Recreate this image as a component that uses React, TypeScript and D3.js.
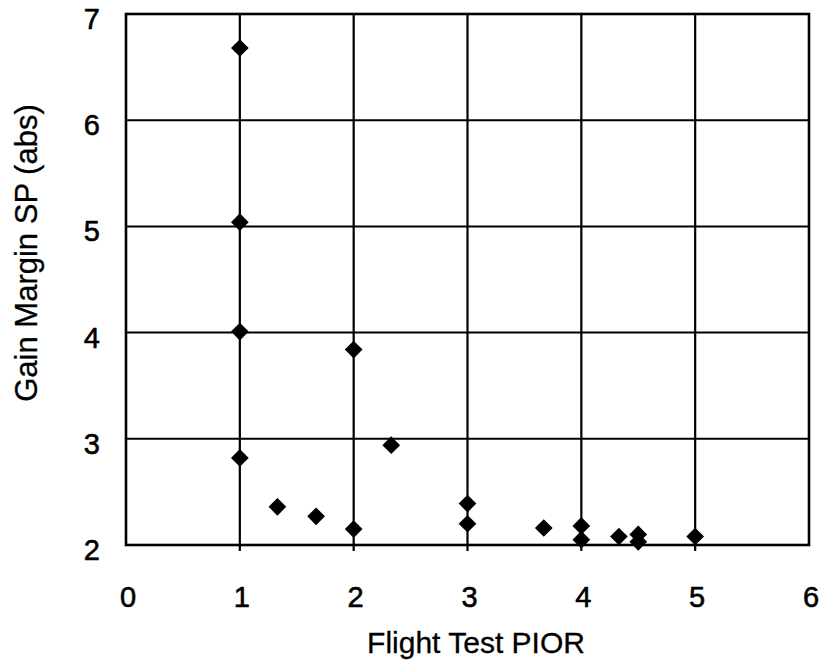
import React from "react";
import * as d3 from "d3";

const pior = [1, 1, 1, 1, 1.33, 1.67, 2, 2, 2.33, 3, 3, 3.67, 4, 4, 4.33, 4.5, 4.5, 5];
const gainMargin = [6.68, 5.04, 4.01, 2.82, 2.36, 2.27, 3.84, 2.15, 2.94, 2.39, 2.2, 2.16, 2.18, 2.05, 2.08, 2.1, 2.03, 2.08];
const xTicks = [0, 1, 2, 3, 4, 5, 6];
const yTicks = [2, 3, 4, 5, 6, 7];
const xTitle = "Flight Test PIOR";
const yTitle = "Gain Margin SP (abs)";

const W = 821;
const H = 660;
const left = 126;
const right = 809;
const top = 14;
const bottom = 545;

export default function App() {
  const x = d3.scaleLinear().domain([0, 6]).range([left, right]);
  const y = d3.scaleLinear().domain([2, 7]).range([bottom, top]);
  const font = "'Liberation Sans', Arial, sans-serif";
  const diamond = d3.symbol().type(d3.symbolDiamond2).size(200);
  return (
    <svg width={W} height={H} style={{ position: "absolute", left: 0, top: 0, background: "#fff" }}>
      <rect x={0} y={0} width={W} height={H} fill="#fff" />
      {yTicks.slice(1, -1).map((t) => (
        <line key={"gy" + t} x1={left} x2={right} y1={y(t)} y2={y(t)} stroke="#000" strokeWidth={2} />
      ))}
      {xTicks.slice(1, -1).map((t) => (
        <line key={"gx" + t} x1={x(t)} x2={x(t)} y1={top} y2={bottom + 6} stroke="#000" strokeWidth={2.2} />
      ))}
      <rect x={left} y={top} width={right - left} height={bottom - top} fill="none" stroke="#000" strokeWidth={2.6} />
      {pior.map((v, i) => (
        <path key={"p" + i} d={diamond()!} transform={`translate(${x(v)},${y(gainMargin[i])})`} fill="#000" />
      ))}
      {xTicks.map((t) => (
        <text key={"tx" + t} x={x(t) + 2} y={607} textAnchor="middle" fontFamily={font} fontSize={29} stroke="#000" strokeWidth={0.6} fill="#000">
          {t}
        </text>
      ))}
      {yTicks.map((t) => (
        <text key={"ty" + t} x={100} y={y(t) + 15} textAnchor="end" fontFamily={font} fontSize={29} stroke="#000" strokeWidth={0.6} fill="#000">
          {t}
        </text>
      ))}
      <text x={476} y={653} textAnchor="middle" fontFamily={font} fontSize={30} stroke="#000" strokeWidth={0.3} fill="#000">
        {xTitle}
      </text>
      <text transform={`translate(37,253) rotate(-90)`} textAnchor="middle" fontFamily={font} fontSize={31} stroke="#000" strokeWidth={0.3} fill="#000">
        {yTitle}
      </text>
    </svg>
  );
}
